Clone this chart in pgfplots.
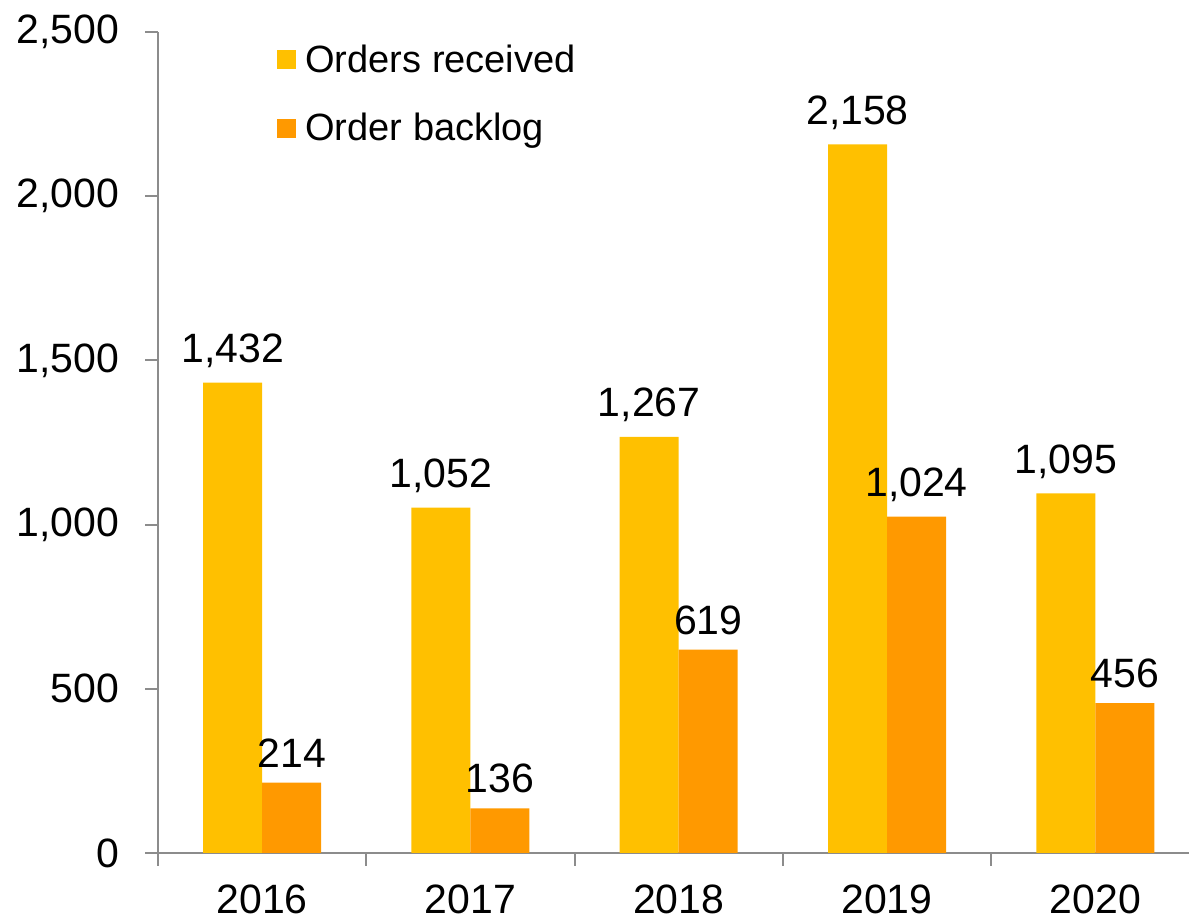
\documentclass[border=0pt]{standalone}
\usepackage{fontspec}
\setmainfont{Liberation Sans}
\usepackage{pgfplots}
\pgfplotsset{compat=1.18}
\definecolor{ordrec}{HTML}{FFC000}
\definecolor{ordback}{HTML}{FF9900}
\definecolor{axgray}{HTML}{8C8C8C}
\newcommand\cf{\fontsize{20.5pt}{24pt}\selectfont}
\newcommand\lf{\fontsize{19pt}{22pt}\selectfont}
\begin{document}
\begin{tikzpicture}
\begin{axis}[
  scale only axis, width=515.5pt, height=410.5pt,
  xmin=-0.5, xmax=4.45, ymin=0, ymax=2500,
  ybar=0pt, bar width=29.5pt,
  axis x line*=bottom, axis y line*=left,
  axis line style={axgray, line width=1pt},
  xtick={0,1,2,3,4}, xticklabels={2016,2017,2018,2019,2020},
  minor xtick={-0.5,0.5,1.5,2.5,3.5},
  major x tick style={draw=none},
  ytick={0,500,1000,1500,2000,2500},
  tick align=outside,
  tick style={axgray, line width=1pt},
  major tick length=6.5pt, minor tick length=6.5pt,
  /pgf/number format/.cd, 1000 sep={,}, assume math mode=true, /pgfplots/.cd,
  tick label style={font=\cf},
  x tick label style={yshift=-6pt},
  y tick label style={xshift=-9.5pt},
  nodes near coords,
  nodes near coords style={font=\cf, black, yshift=4pt},
  legend style={at={(0.1154,0.990)}, anchor=north west, draw=none, fill=none, font=\lf,
     row sep=15pt, column sep=2.5pt, inner sep=0pt},
  legend cell align=left,
  clip=false,
]
\addplot[fill=ordrec, draw=none,
  legend image code/.code={\fill[ordrec] (0pt,-4.75pt) rectangle (9.5pt,4.75pt);}]
  coordinates {(0,1432) (1,1052) (2,1267) (3,2158) (4,1095)};
\addlegendentry{Orders received}
\addplot[fill=ordback, draw=none,
  legend image code/.code={\fill[ordback] (0pt,-4.75pt) rectangle (9.5pt,4.75pt);}]
  coordinates {(0,214) (1,136) (2,619) (3,1024) (4,456)};
\addlegendentry{Order backlog}
\coordinate (bbsw) at (rel axis cs:-0.1533,-0.0816);
\coordinate (bbne) at (rel axis cs:1,1.039);
\end{axis}
\pgfresetboundingbox
\path[use as bounding box] (bbsw) rectangle (bbne);
\end{tikzpicture}
\end{document}
